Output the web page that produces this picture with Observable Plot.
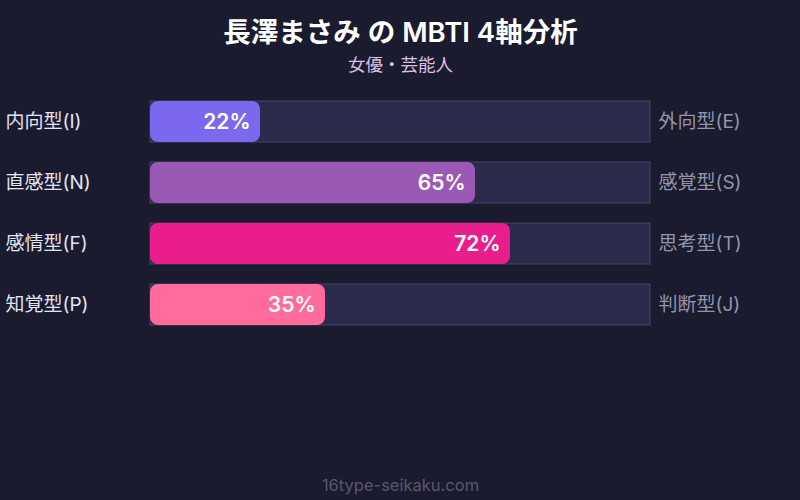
<!DOCTYPE html>
<html>
<head>
<meta charset="utf-8">
<script src="https://cdn.jsdelivr.net/npm/d3@7"></script>
<script src="https://cdn.jsdelivr.net/npm/@observablehq/plot@0.6"></script>
<style>
  html, body { margin: 0; padding: 0; background: #1b1b2f; }
  #chart svg { display: block; }
</style>
</head>
<body>
<div id="chart"></div>
<script>
const title = "長澤まさみ の MBTI 4軸分析";
const subtitle = "女優・芸能人";
const footer = "16type-seikaku.com";
const leftLabels = ["内向型(I)", "直感型(N)", "感情型(F)", "知覚型(P)"];
const rightLabels = ["外向型(E)", "感覚型(S)", "思考型(T)", "判断型(J)"];
const values = [22, 65, 72, 35];
const colors = ["#7b68ee", "#9b59b6", "#e91e8c", "#ff6b9d"];

const rows = leftLabels.map((l, i) => ({left: l, right: rightLabels[i], value: values[i], color: colors[i]}));
const font = "Inter, 'Noto Sans CJK JP', sans-serif";

const chart = Plot.plot({
  width: 800,
  height: 500,
  margin: 0,
  style: {background: "#1b1b2f", fontFamily: font},
  x: {domain: [0, 100], range: [150, 650], axis: null},
  y: {domain: leftLabels, range: [79, 347], padding: 0.3226, axis: null},
  marks: [
    Plot.barX(rows, {y: "left", x1: 0, x2: 100, fill: "#2d2b4b", stroke: "#45456b", strokeWidth: 1}),
    Plot.barX(rows, {y: "left", x1: 0, x2: "value", fill: "color", rx: 8}),
    Plot.text(rows, {y: "left", x: "value", text: d => d.value + "%", textAnchor: "end", dx: -10, fill: "white", fontSize: 21, fontWeight: 600}),
    Plot.text(rows, {y: "left", text: "left", frameAnchor: "left", dx: 5, textAnchor: "start", fill: "#e4e4f0", fontSize: 19}),
    Plot.text(rows, {y: "left", x: 100, text: "right", dx: 8, textAnchor: "start", fill: "#9494aa", fontSize: 19}),
    Plot.text([title], {text: d => d, frameAnchor: "top", lineAnchor: "middle", dy: 33, fill: "white", fontSize: 27.5, fontWeight: 600}),
    Plot.text([subtitle], {text: d => d, frameAnchor: "top", lineAnchor: "middle", dy: 65, fill: "#dcc0e4", fontSize: 17.5}),
    Plot.text([footer], {text: d => d, frameAnchor: "bottom", lineAnchor: "middle", dy: -15, fill: "#56576f", fontSize: 16.5})
  ]
});
document.getElementById("chart").append(chart);
</script>
</body>
</html>
